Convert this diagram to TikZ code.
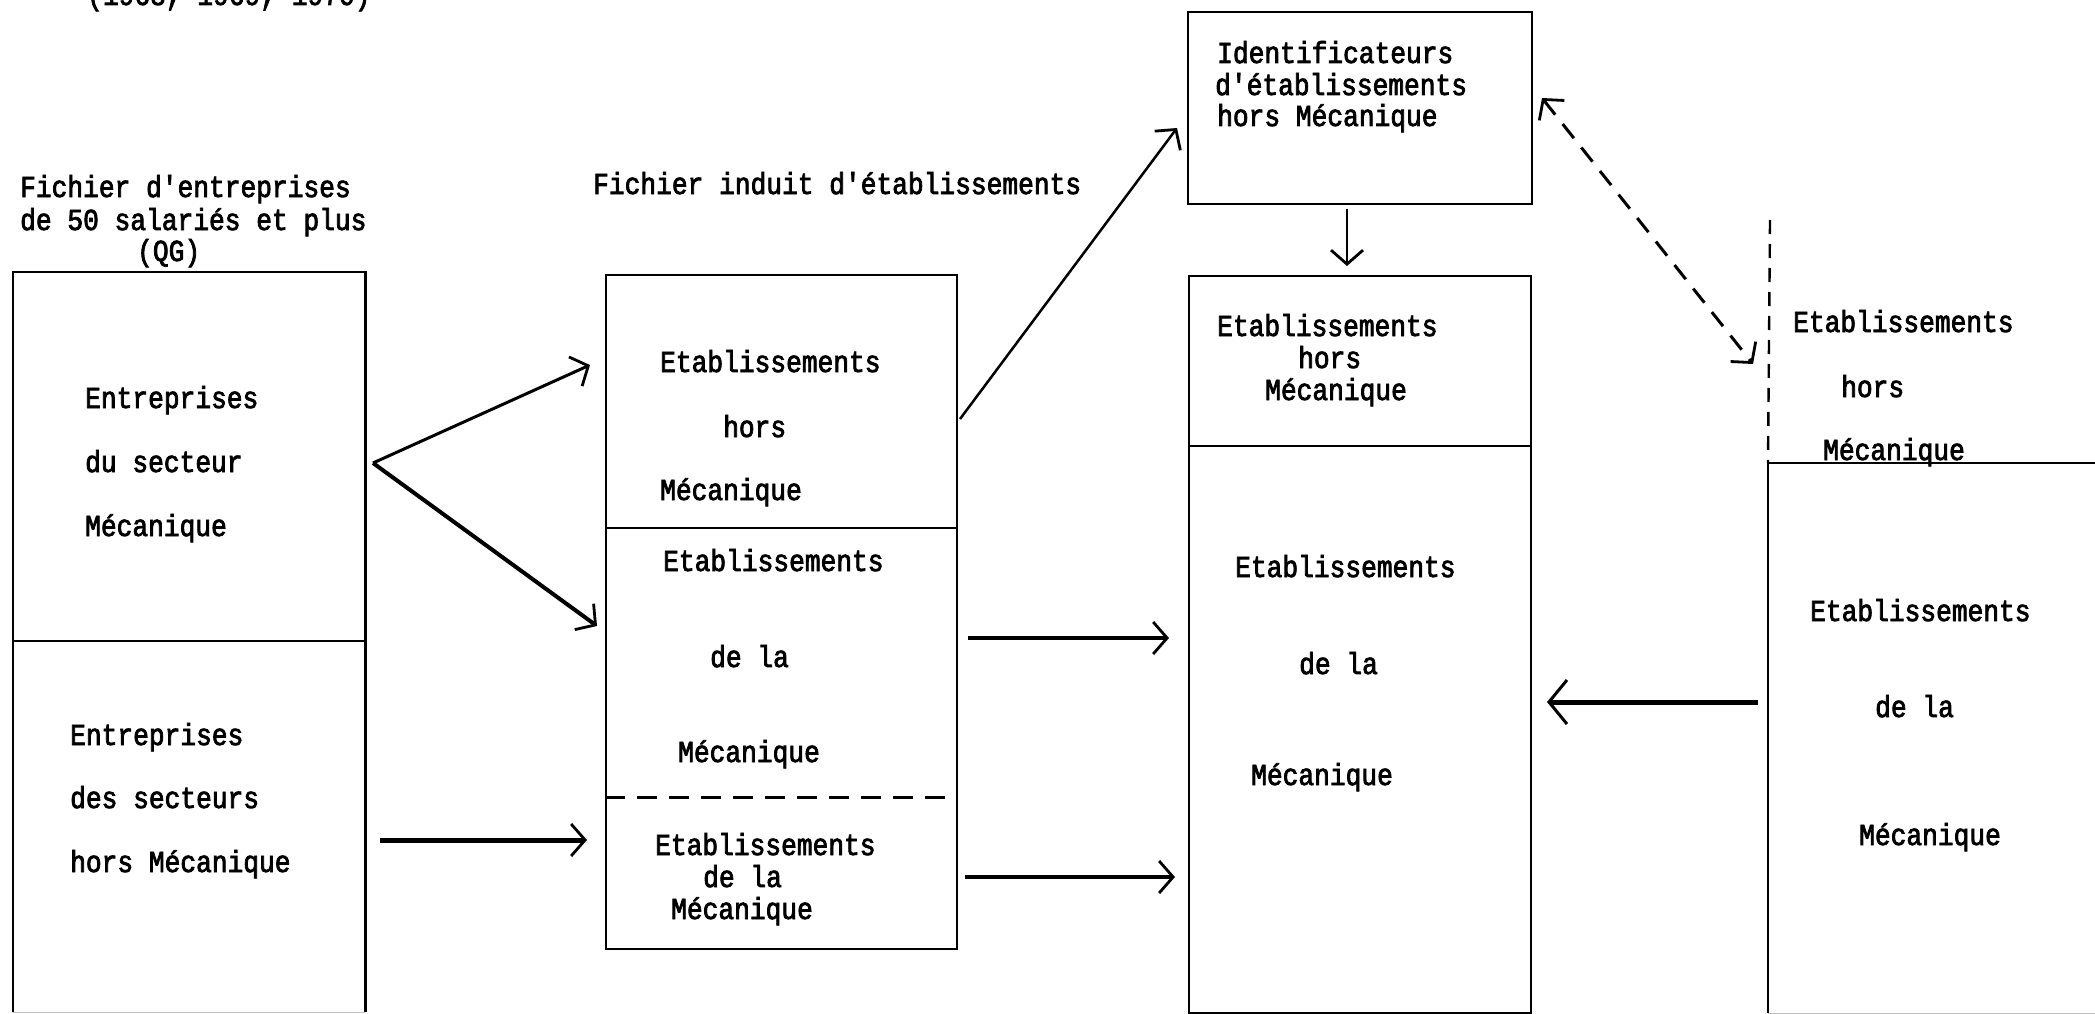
\documentclass[tikz,border=0pt]{standalone}
\usepackage{fontspec}
\newfontfamily\twfont[FakeStretch=0.86, FakeBold=2.5]{Liberation Mono}
\usetikzlibrary{arrows.meta}
\begin{document}
\begin{tikzpicture}[x=1pt,y=-1pt,
  txt/.style={font=\twfont\fontsize{30.5}{31}\selectfont, inner sep=0pt, anchor=base west},
  box/.style={draw, line width=2.4pt, inner sep=0pt, anchor=north west},
  openbox/.style={inner sep=0pt, anchor=north west},
  frame/.style={line width=2.4pt},
  faint/.style={line width=1.5pt, black!25},
  arr/.style={line width=3pt, -{Straight Barb[length=14pt,width=32pt,line width=2.8pt]}},
  dasharr/.style={line width=3pt, dash pattern=on 18pt off 12pt,
     {Straight Barb[length=14pt,width=32pt,line width=2.8pt]}-{Straight Barb[length=14pt,width=32pt,line width=2.8pt]}},
]
\useasboundingbox (0,0) rectangle (2095,1014);

% ---------- boxes ----------
\node[openbox, minimum width=352pt, minimum height=740pt] (L) at (13,272) {};
\draw[frame] (L.south west) -- (L.north west) -- (L.north east) -- (L.south east);
\draw[faint] (L.south west) -- (L.south east);
\draw[frame] (L.west |- 0,641) -- (L.east |- 0,641);

\node[box, minimum width=351pt, minimum height=674pt] (M) at (605,274) {};
\draw[frame] (M.west |- 0,528) -- (M.east |- 0,528);
\draw[frame, line width=3pt, dash pattern=on 20pt off 12pt] (M.west |- 0,797) -- (M.east |- 0,797);

\node[box, minimum width=344pt, minimum height=192pt] (T) at (1187,11) {};

\node[box, minimum width=342pt, minimum height=737pt] (C) at (1188,275) {};
\draw[frame] (C.west |- 0,446) -- (C.east |- 0,446);

\node[openbox, minimum width=330pt, minimum height=550pt] (R) at (1768,463) {};
\draw[frame, dash pattern=on 14pt off 10pt] (1770,220) -- (R.north west);
\draw[frame] (R.south west) -- (R.north west) -- (R.north east);
\draw[faint] (R.south west) -- (R.south east);

% ---------- texts ----------
\node[txt] (yr) at (87,5) {(1968, 1969, 1970)};
\node[txt] (h1) at (20,197) {Fichier d'entreprises};
\node[txt] (h2) at (20,230) {de 50 salariés et plus};
\node[txt] (h3) at (137,261) {(QG)};
\node[txt] (h4) at (593,194) {Fichier induit d'établissements};

\node[txt] (l1) at (85,408) {Entreprises};
\node[txt] (l2) at (85,472) {du secteur};
\node[txt] (l3) at (85,536) {Mécanique};
\node[txt] (l4) at (70,745) {Entreprises};
\node[txt] (l5) at (70,808) {des secteurs};
\node[txt] (l6) at (70,872) {hors Mécanique};

\node[txt] (m1) at (660,372) {Etablissements};
\node[txt] (m2) at (723,437) {hors};
\node[txt] (m3) at (660,500) {Mécanique};
\node[txt] (m4) at (663,571) {Etablissements};
\node[txt] (m5) at (710,667) {de la};
\node[txt] (m6) at (678,762) {Mécanique};
\node[txt] (m7) at (655,855) {Etablissements};
\node[txt] (m8) at (703,887) {de la};
\node[txt] (m9) at (671,919) {Mécanique};

\node[txt] (t1) at (1217,63) {Identificateurs};
\node[txt] (t2) at (1215,95) {d'établissements};
\node[txt] (t3) at (1217,126) {hors Mécanique};

\node[txt] (c1) at (1217,336) {Etablissements};
\node[txt] (c2) at (1298,368) {hors};
\node[txt] (c3) at (1265,400) {Mécanique};
\node[txt] (c4) at (1235,577) {Etablissements};
\node[txt] (c5) at (1299,674) {de la};
\node[txt] (c6) at (1251,785) {Mécanique};

\node[txt] (r1) at (1793,332) {Etablissements};
\node[txt] (r2) at (1841,397) {hors};
\node[txt] (r3) at (1823,460) {Mécanique};
\node[txt] (r4) at (1810,621) {Etablissements};
\node[txt] (r5) at (1875,717) {de la};
\node[txt] (r6) at (1859,845) {Mécanique};

% ---------- connectors ----------
\coordinate (fork) at (373,463);
\coordinate (forkA) at (590,365);
\coordinate (forkB) at (597,626);
\coordinate (hmS) at (380,840);
\coordinate (hmE) at (587,840);
\coordinate (upS) at (960,419);
\coordinate (upE) at (1177,128);
\coordinate (mcS) at (968,638);
\coordinate (mcE) at (1169,638);
\coordinate (mc2S) at (965,877);
\coordinate (mc2E) at (1175,877);
\coordinate (dnS) at (1347,209);
\coordinate (dnE) at (1347,266);
\coordinate (dA) at (1542,98);
\coordinate (dB) at (1753,364);
\coordinate (lfS) at (1758,702);
\coordinate (lfE) at (1547,702);

\draw[arr] (fork) -- (forkA);
\draw[arr, line width=4pt] (fork) -- (forkB);
\draw[arr, line width=5pt] (hmS) -- (hmE);
\draw[arr, line width=2.5pt] (upS) -- (upE);
\draw[arr, line width=4pt] (mcS) -- (mcE);
\draw[arr, line width=4pt] (mc2S) -- (mc2E);
\draw[arr, line width=2.5pt] (dnS) -- (dnE);
\draw[dasharr] (dA) -- (dB);
\draw[line width=5pt, -{Straight Barb[length=18pt,width=44pt,line width=3pt]}] (lfS) -- (lfE);
\end{tikzpicture}
\end{document}
